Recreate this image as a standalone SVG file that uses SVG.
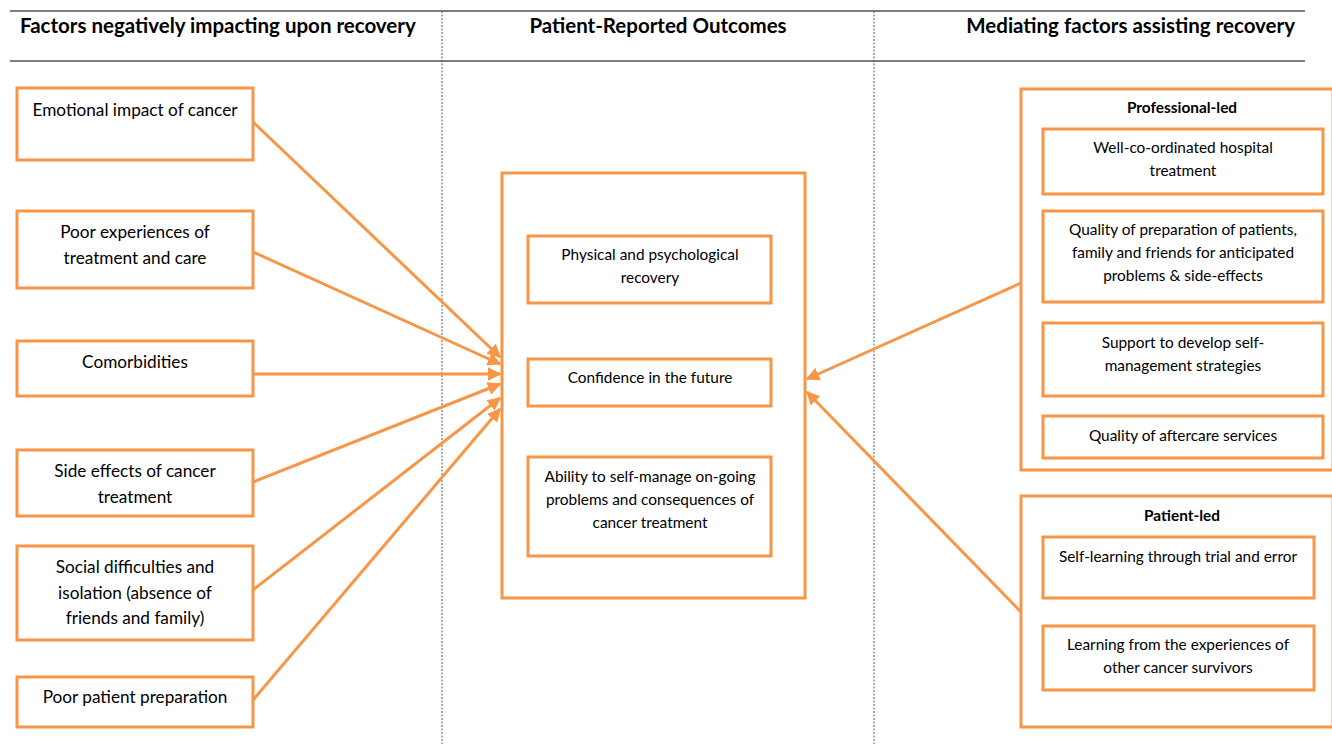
<svg xmlns="http://www.w3.org/2000/svg" width="1332" height="744" viewBox="0 0 1332 744">
<defs>
<style>
.bx{fill:#fff;stroke:#F79646;stroke-width:3}
.ob{fill:none;stroke:#F79646;stroke-width:3}
.hd{font-family:Lato,"Open Sans","Liberation Sans",sans-serif;font-weight:bold;font-size:20.5px;fill:#000}
.t1{font-family:Lato,"Open Sans","Liberation Sans",sans-serif;font-size:17.2px;fill:#000;text-anchor:middle}
.t2{font-family:Lato,"Open Sans","Liberation Sans",sans-serif;font-size:15.4px;fill:#000;text-anchor:middle}
.sb{font-family:Lato,"Open Sans","Liberation Sans",sans-serif;font-weight:bold;font-size:15.4px;fill:#000;text-anchor:middle}
.rule{stroke:#555;stroke-width:1.3}
.dash{stroke:#555;stroke-width:1;stroke-dasharray:2,1.5}
.cn{stroke:#F79646;stroke-width:3;fill:none;marker-end:url(#ah)}
</style>
<marker id="ah" viewBox="0 0 10 10" refX="9" refY="5" markerWidth="4.5" markerHeight="4.5" orient="auto" markerUnits="strokeWidth">
<path d="M0,0 L10,5 L0,10 z" fill="#F79646"/>
</marker>
</defs>
<rect width="1332" height="744" fill="#fff"/>
<g id="grid">
<line class="rule" x1="10" y1="11" x2="1305" y2="11"/>
<line class="rule" x1="10" y1="61" x2="1305" y2="61"/>
<line class="dash" x1="442" y1="11" x2="442" y2="744"/>
<line class="dash" x1="874" y1="11" x2="874" y2="744"/>
<text class="hd" x="20" y="33">Factors negatively impacting upon recovery</text>
<text class="hd" x="658" y="33" text-anchor="middle">Patient-Reported Outcomes</text>
<text class="hd" x="1295" y="33" text-anchor="end">Mediating factors assisting recovery</text>
</g>
<g id="connectors">
<line class="cn" x1="253" y1="122" x2="500" y2="357"/>
<line class="cn" x1="253" y1="252" x2="500" y2="364"/>
<line class="cn" x1="253" y1="374" x2="500" y2="374"/>
<line class="cn" x1="253" y1="482" x2="500" y2="384"/>
<line class="cn" x1="253" y1="590" x2="500" y2="398"/>
<line class="cn" x1="253" y1="700" x2="500" y2="409"/>
<line class="cn" x1="1021" y1="283" x2="807" y2="379"/>
<line class="cn" x1="1021" y1="612" x2="807" y2="392"/>
</g>
<g id="n-emotional"><rect class="bx" x="17" y="88" width="236" height="72"/><text class="t1" x="135" y="116">Emotional impact of cancer</text></g>
<g id="n-poorexp"><rect class="bx" x="17" y="211" width="236" height="77"/><text class="t1" x="135" y="238">Poor experiences of</text><text class="t1" x="135" y="264">treatment and care</text></g>
<g id="n-comorb"><rect class="bx" x="17" y="341" width="236" height="55"/><text class="t1" x="135" y="368">Comorbidities</text></g>
<g id="n-side"><rect class="bx" x="17" y="450" width="236" height="66"/><text class="t1" x="135" y="477">Side effects of cancer</text><text class="t1" x="135" y="503">treatment</text></g>
<g id="n-social"><rect class="bx" x="17" y="546" width="236" height="94"/><text class="t1" x="135" y="573">Social difficulties and</text><text class="t1" x="135" y="599">isolation (absence of</text><text class="t1" x="135" y="624">friends and family)</text></g>
<g id="n-prep"><rect class="bx" x="17" y="677" width="236" height="50"/><text class="t1" x="135" y="703">Poor patient preparation</text></g>
<g id="n-outcomes">
<rect class="ob" x="502" y="173" width="303" height="425"/>
<g id="n-physical"><rect class="bx" x="528" y="236" width="243" height="67"/><text class="t2" x="650" y="260">Physical and psychological</text><text class="t2" x="650" y="283">recovery</text></g>
<g id="n-confidence"><rect class="bx" x="528" y="359" width="243" height="47"/><text class="t2" x="650" y="383">Confidence in the future</text></g>
<g id="n-ability"><rect class="bx" x="528" y="457" width="243" height="99"/><text class="t2" x="650" y="482">Ability to self-manage on-going</text><text class="t2" x="650" y="505">problems and consequences of</text><text class="t2" x="650" y="528">cancer treatment</text></g>
</g>
<g id="n-professional">
<rect class="ob" x="1021" y="89" width="312" height="381"/>
<text class="sb" x="1182" y="113">Professional-led</text>
<g id="n-wellco"><rect class="bx" x="1043" y="129" width="280" height="65"/><text class="t2" x="1183" y="153">Well-co-ordinated hospital</text><text class="t2" x="1183" y="176">treatment</text></g>
<g id="n-qualprep"><rect class="bx" x="1043" y="211" width="280" height="91"/><text class="t2" x="1183" y="235">Quality of preparation of patients,</text><text class="t2" x="1183" y="258">family and friends for anticipated</text><text class="t2" x="1183" y="281">problems &amp; side-effects</text></g>
<g id="n-support"><rect class="bx" x="1043" y="323" width="280" height="73"/><text class="t2" x="1183" y="348">Support to develop self-</text><text class="t2" x="1183" y="371">management strategies</text></g>
<g id="n-aftercare"><rect class="bx" x="1043" y="416" width="280" height="42"/><text class="t2" x="1183" y="441">Quality of aftercare services</text></g>
</g>
<g id="n-patient">
<rect class="ob" x="1021" y="496" width="312" height="231"/>
<text class="sb" x="1182" y="521">Patient-led</text>
<g id="n-selflearn"><rect class="bx" x="1043" y="537" width="271" height="61"/><text class="t2" x="1178" y="562">Self-learning through trial and error</text></g>
<g id="n-learnfrom"><rect class="bx" x="1043" y="626" width="271" height="64"/><text class="t2" x="1178" y="650">Learning from the experiences of</text><text class="t2" x="1178" y="673">other cancer survivors</text></g>
</g>
</svg>
